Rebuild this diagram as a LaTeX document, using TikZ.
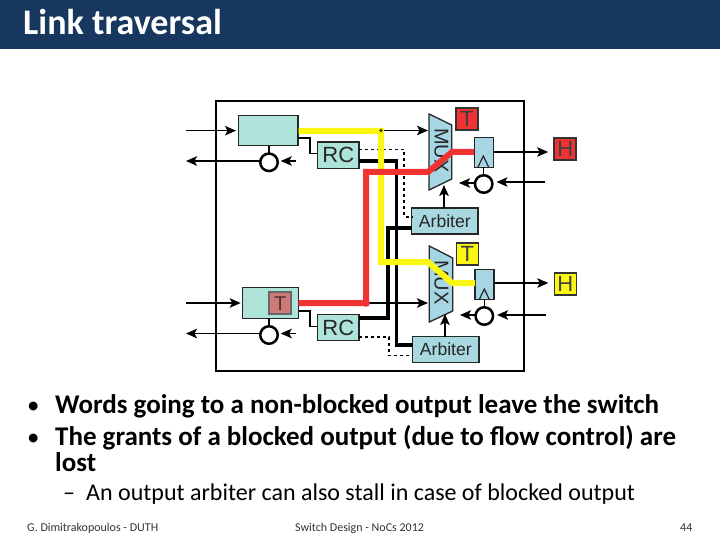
\documentclass[tikz,border=0pt]{standalone}
\usepackage{fontspec}
\setmainfont{Carlito}
\newfontfamily\diagfont{Liberation Sans}
\usetikzlibrary{arrows.meta,calc}
\definecolor{hdr}{HTML}{17375E}
\definecolor{teal}{HTML}{AEE3DA}
\definecolor{mblue}{HTML}{A6D5E3}
\definecolor{rd}{HTML}{F03232}
\definecolor{yl}{HTML}{FBF612}
\definecolor{tred}{HTML}{CD7B78}
\tikzset{
  box/.style={draw=black!85,line width=1.3pt,fill=teal,inner sep=0pt,outer sep=0pt,font=\diagfont,text=black!85},
  mk/.style={draw=black!80,line width=1.5pt,inner sep=0pt,outer sep=0pt,minimum size=22pt,font=\diagfont\fontsize{22}{22}\selectfont,text=black!75},
  regbox/.style={draw=black!85,line width=1.3pt,fill=mblue,inner sep=0pt,outer sep=0pt,minimum width=19pt,minimum height=30pt},
  crc/.style={circle,draw=black,line width=2.5pt,fill=white,inner sep=0pt,outer sep=0pt,minimum size=17.5pt},
  arr/.style={draw=black,line width=1.3pt,-{Stealth[length=11pt,width=9.5pt,inset=2.5pt]}},
  thinwire/.style={draw=black,line width=1.3pt},
  thickwire/.style={draw=black,line width=3.3pt,line join=miter},
  dashwire/.style={draw=black,line width=1.2pt,dash pattern=on 3pt off 3pt},
  redpath/.style={draw=rd,line width=6pt,line join=miter},
  ylpath/.style={draw=yl,line width=6pt,line join=miter},
  muxshape/.style={draw=black!85,line width=1.3pt,fill=mblue,line join=miter},
  muxtext/.style={rotate=-90,inner sep=0pt,font=\diagfont\fontsize{20}{20}\selectfont,text=black!85},
  boldtext/.style={anchor=base west,inner sep=0pt,font=\bfseries\fontsize{27}{27}\selectfont,text=black},
  subtext/.style={anchor=base west,inner sep=0pt,font=\fontsize{24}{24}\selectfont,text=black},
  foottext/.style={anchor=base west,inner sep=0pt,font=\fontsize{12}{12}\selectfont,text=black!80},
}
\begin{document}
\begin{tikzpicture}[x=1pt,y=-1pt]
\useasboundingbox (0,0) rectangle (720,540);
\fill[hdr] (0,0) rectangle (720,48.6);
\node[anchor=base west,inner sep=0pt,font=\bfseries\fontsize{36}{36}\selectfont,text=white] (title) at (23,35) {Link traversal};

% frame
\coordinate (f1) at (216,101); \coordinate (f2) at (523.7,370.7);
\draw[black,line width=1.6pt] (f1) rectangle (f2);

% nodes
\node[box,minimum width=59.3pt,minimum height=30pt] (buf1) at (268.35,130.7) {};
\node[box,minimum width=41.3pt,minimum height=26.7pt,font=\diagfont\fontsize{22}{22}\selectfont] (rc1) at (338.35,155.35) {RC};
\node[box,minimum width=56pt,minimum height=30.6pt] (buf2) at (270.7,303) {};
\node[box,minimum width=41.3pt,minimum height=26pt,font=\diagfont\fontsize{22}{22}\selectfont] (rc2) at (338.35,327.7) {RC};
\node[box,fill=mblue!70!teal,minimum width=66.3pt,minimum height=26pt,font=\diagfont\fontsize{17.6}{18}\selectfont] (arb1) at (444.85,221) {Arbiter};
\node[box,fill=mblue!70!teal,minimum width=66.3pt,minimum height=25.6pt,font=\diagfont\fontsize{17.6}{18}\selectfont] (arb2) at (445.85,349.5) {Arbiter};
\node[crc] (c1) at (269,162.3) {};
\node[crc] (c2) at (269,335) {};
\node[crc] (c3) at (483.7,184) {};
\node[crc] (c4) at (484.3,316) {};
\node[regbox] (reg1) at (483.65,152.3) {};
\node[regbox] (reg2) at (484.5,284.65) {};

% mux shapes
\coordinate (m1a) at (429,114); \coordinate (m1b) at (451.7,125);
\coordinate (m1c) at (451.7,179); \coordinate (m1d) at (429,190);
\coordinate (m2a) at (429.3,246); \coordinate (m2b) at (452.7,258);
\coordinate (m2c) at (452.7,311); \coordinate (m2d) at (429.3,322);
\draw[muxshape] (m1a) -- (m1b) -- (m1c) -- (m1d) -- cycle;
\draw[muxshape] (m2a) -- (m2b) -- (m2c) -- (m2d) -- cycle;
\node[muxtext] (mux1) at (441.5,150.5) {MUX};
\node[muxtext] (mux2) at (441.5,282.5) {MUX};

% thin and thick control wiring
\draw[thinwire] (buf1.south -| c1) -- (c1);
\draw[thinwire] (buf2.south -| c2) -- (c2);
\draw[thinwire] (reg1.south -| c3) -- (c3);
\draw[thinwire] (reg2.south -| c4) -- (c4);
\coordinate (b1o) at (298,138); \coordinate (b2o) at (298.7,311);
\draw[thinwire] (b1o) -- (310,138) |- ($(rc1.west)+(0,-2)$);
\draw[thinwire] (b2o) -- (310,311) |- ($(rc2.west)+(0,-1)$);
\draw[thickwire] (359,161) -| (396.5,345) -- (412.7,345);
\draw[thickwire] (359,318) -| (388,228) -- (411.7,228);
\draw[dashwire] (359,149.5) -| (404,217) -- (411.7,217);
\draw[dashwire] (359,337) -| (389,355.7) -- (412.7,355.7);

% input arrows
\coordinate (i1) at (186,130.7); \coordinate (o1) at (186,161);
\coordinate (i2) at (186,303); \coordinate (o2) at (186,333.5);
\coordinate (b1) at (296,161); \coordinate (b2) at (296,333.5);
\draw[arr,shorten >=2.7pt] (i1) -- (buf1.west);
\draw[arr,shorten >=2pt] (i2) -- (buf2.west);
\draw[arr] (c1.west |- o1) -- (o1);
\draw[arr] (c2.west |- o2) -- (o2);
\draw[arr,shorten >=3pt] (b1) -- (c1.east |- b1);
\draw[arr,shorten >=3pt] (b2) -- (c2.east |- b2);

% data into muxes
\coordinate (d1) at (381,130.5); \coordinate (d2) at (366,303);
\draw[arr] (d1) -- (428,130.5);
\draw[arr] (d2) -- (428,303);

% highlighted paths
\draw[ylpath] (298.5,131) -- (381,131) -- (381,262) -- (428,262) -- (452,283) -- (reg2.west |- 0,283);
\draw[redpath] (buf2.east) -- (366,303) -- (366,172) -- (428,172) -- (452,152) -- (reg1.west |- 0,152);
\fill[rd] (d2) circle (3.8pt);
\fill[black!75!yl] (d1) circle (1.8pt);

% outputs
\node[mk,fill=rd] (t1) at (467.2,119.2) {T};
\node[mk,fill=rd] (h1) at (565.2,149.2) {H};
\node[mk,fill=yl] (t2) at (467.3,254.2) {T};
\node[mk,fill=yl] (h2) at (565.3,284.2) {H};
\node[mk,fill=tred,draw=black!60,font=\diagfont\fontsize{20}{20}\selectfont,text=black!60!tred] (tb) at (280.2,303.2) {T};
\draw[arr] (reg1.east |- 0,152) -- ($(h1.west |- 0,152)+(-6,0)$);
\draw[arr] (reg2.east |- 0,283) -- ($(h2.west |- 0,283)+(-6,0)$);
\coordinate (r1) at (545,182); \coordinate (r2) at (546,315);
\draw[arr,shorten >=4pt] (r1) -- (c3.east |- r1);
\draw[arr,shorten >=4pt] (r2) -- (c4.east |- r2);
\coordinate (l1) at (459,183); \coordinate (l2) at (460,315);
\draw[arr] (c3.west |- l1) -- (l1);
\draw[arr] (c4.west |- l2) -- (l2);
\draw[arr,line width=1.6pt] (arb1.north -| 444,0) -- (444,185);
\draw[arr,line width=1.6pt] (arb2.north -| 445,0) -- (445,314);
% clock triangles
\draw[black!85,line width=1.2pt,line join=miter] (478,167) -- (483.3,156) -- (488.6,167);
\draw[black!85,line width=1.2pt,line join=miter] (479,300) -- (484.3,289) -- (489.6,300);

% slide text
\node[boldtext] (w1) at (55,413) {Words going to a non-blocked output leave the switch};
\node[boldtext] (w2) at (55,445) {The grants of a blocked output (due to flow control) are};
\node[boldtext] (w3) at (55,471.2) {lost};
\node[subtext] (w4) at (86,500.6) {An output arbiter can also stall in case of blocked output};
\node[boldtext,font=\fontsize{24.9}{25}\selectfont] (p1) at (27,413) {•};
\node[boldtext,font=\fontsize{24.9}{25}\selectfont] (p2) at (27,445) {•};
\node[subtext] (p3) at (63,500.6) {–};
\node[foottext] (f1t) at (27,531.7) {G. Dimitrakopoulos - DUTH};
\node[foottext] (f2t) at (295,531.7) {Switch Design - NoCs 2012};
\node[foottext] (f3t) at (680,531.7) {44};
\end{tikzpicture}
\end{document}
